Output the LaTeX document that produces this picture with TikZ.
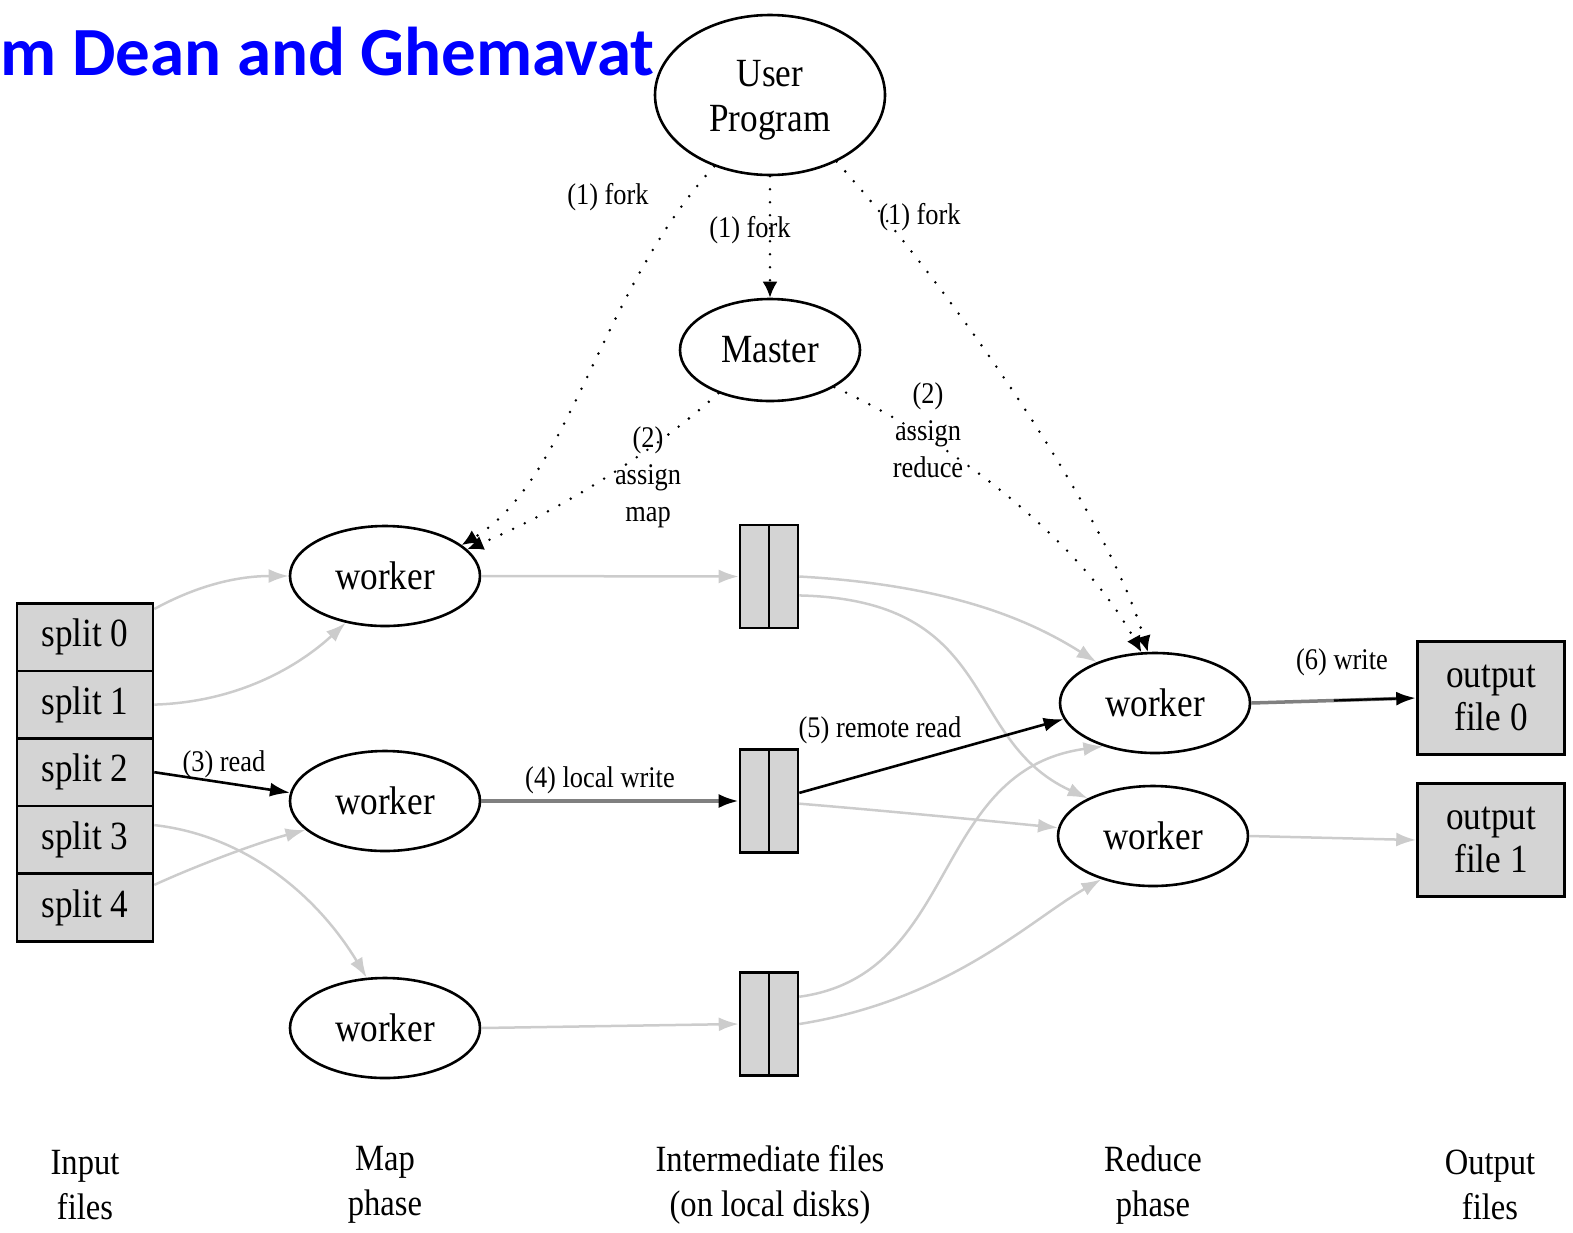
\documentclass[tikz,border=0pt]{standalone}
\usepackage{fontspec}
\setmainfont{Liberation Serif}[FakeStretch=0.88]
\newfontfamily\titlefont{Carlito}
\usetikzlibrary{arrows.meta,shapes.geometric}
\definecolor{boxfill}{gray}{0.83}
\definecolor{lightflow}{gray}{0.80}
\definecolor{mainflow}{gray}{0.50}
\definecolor{titleblue}{RGB}{0,0,255}

\begin{document}
\begin{tikzpicture}[x=1pt,y=-1pt,
  every node/.style={inner sep=0pt},
  proc/.style={ellipse,draw,line width=2.6pt,fill=white,align=center,
    font=\fontsize{40}{45}\selectfont},
  wk/.style={proc,minimum width=190,minimum height=100},
  split/.style={rectangle,draw,line width=2.6pt,fill=boxfill,
    minimum width=136,minimum height=67.6,font=\fontsize{40}{45}\selectfont},
  ifile/.style={rectangle,draw,line width=2.6pt,fill=boxfill,
    minimum width=58,minimum height=103},
  ofile/.style={rectangle,draw,line width=2.6pt,fill=boxfill,
    minimum width=147,minimum height=113,align=center,
    font=\fontsize{40}{43}\selectfont},
  lbl/.style={font=\fontsize{30}{37}\selectfont,align=center},
  phase/.style={font=\fontsize{37}{45}\selectfont,align=center},
  flow/.style={draw=lightflow,line width=2.5pt,-{Latex[length=20pt,width=14pt]}},
  mainflow/.style={draw=mainflow,line width=3.5pt,
    -{Latex[length=20pt,width=14pt,color=black]}},
  dataflow/.style={draw=black,line width=2.6pt,-{Latex[length=20pt,width=14pt]}},
  ctrl/.style={draw=black,line width=2.8pt,line cap=round,
    dash pattern=on 0pt off 13pt,-{Latex[length=16pt,width=15pt]}}
]
\useasboundingbox (0,0) rectangle (1573,1232);

% heading, running off the left edge
\begin{scope}
  \clip (0,0) rectangle (1573,1232);
  \node[anchor=base east,text=titleblue,font=\titlefont\bfseries\fontsize{69}{80}\selectfont]
    (title) at (655,75) {from Dean and Ghemavat};
\end{scope}

% control processes
\node[proc,minimum width=230,minimum height=160] (up) at (770,95) {};
\node[font=\fontsize{40}{45}\selectfont,align=center] (uptext) at (770,100) {User\\Program};
\node[proc,minimum width=180,minimum height=102] (ma) at (770,350) {Master};

% input splits
\node[split] (s0) at (85,637) {split 0};
\node[split] (s1) at (85,704.6) {split 1};
\node[split] (s2) at (85,772.2) {split 2};
\node[split] (s3) at (85,839.8) {split 3};
\node[split] (s4) at (85,907.4) {split 4};

% map workers
\node[wk] (m1) at (385,576) {worker};
\node[wk] (m2) at (385,801) {worker};
\node[wk] (m3) at (385,1028) {worker};

% intermediate files on local disks
\node[ifile] (f1) at (769,576.5) {};
\node[ifile] (f2) at (769,801) {};
\node[ifile] (f3) at (769,1024) {};
\foreach \f in {f1,f2,f3}
  \draw[line width=2.6pt] (\f.north) -- (\f.south);

% reduce workers
\node[wk] (r1) at (1155,703) {worker};
\node[wk] (r2) at (1153,836) {worker};

% output files
\node[ofile] (o0) at (1491,698) {output\\file 0};
\node[ofile] (o1) at (1491,840) {output\\file 1};

% fork and assignment (control) connectors
\draw[ctrl] (up.south) -- (ma.north);
\draw[ctrl] (up.-128) .. controls (600,290) and (570,480) .. (m1.22);
\draw[ctrl] (ma.-140) .. controls (650,455) and (560,510) .. (m1.18);
\draw[ctrl] (up.-45) .. controls (960,300) and (1110,520) .. (r1.98);
\draw[ctrl] (ma.-30) .. controls (950,440) and (1080,540) .. (r1.105);

\node[lbl] (fork1) at (608,197) {(1) fork};
\node[lbl] (fork2) at (750,230) {(1) fork};
\node[lbl] (fork3) at (920,217) {(1) fork};
\node[lbl] (amap) at (648,477) {(2)\\assign\\map};
\node[lbl] (ared) at (928,430) {(2)\\assign\\reduce};

% map input
\draw[flow] (s0.22) .. controls (200,584) and (240,576) .. (m1.west);
\draw[flow] (s1.east) .. controls (240,702) and (300,665) .. (m1.-130);
\draw[flow] (s3.12) .. controls (250,836) and (320,900) .. (m3.110);
\draw[flow] (s4.18) .. controls (200,864) and (260,842) .. (m2.-160);
\draw[dataflow] (s2.east) -- (m2.175);
\node[lbl] (read) at (224,764) {(3) read};

% map output
\draw[flow] (m1.east) -- (f1.west);
\draw[mainflow] (m2.east) -- (f2.west);
\draw[flow] (m3.east) -- (f3.west);
\node[lbl] (lwrite) at (600,780) {(4) local write};

% shuffle to the reducers
\draw[flow] (f1.east) .. controls (950,585) and (1030,620) .. (r1.145);
\draw[flow] (f1.-32) .. controls (1000,600) and (960,740) .. (r2.150);
\draw[flow] (f2.-5) .. controls (900,812) and (1000,822) .. (r2.175);
\draw[flow] (f3.42) .. controls (960,975) and (930,770) .. (r1.-140);
\draw[flow] (f3.east) .. controls (950,1000) and (1030,920) .. (r2.-140);
\draw[dataflow] (f2.15) -- (r1.190);
\node[lbl] (rread) at (880,730) {(5) remote read};

% reduce output
\draw[mainflow] (r1.east) -- (o0.west);
\path (r1.east) -- (o0.west) coordinate[pos=0.5] (wmid);
\draw[black,line width=2.2pt,shorten >=12pt] (wmid) -- (o0.west);
\draw[flow] (r2.east) -- (o1.west);
\node[lbl] (write) at (1342,662) {(6) write};

% phase captions
\node[phase] (cin) at (85,1185) {Input\\files};
\node[phase] (cmap) at (385,1185) {Map\\phase};
\node[phase] (cmid) at (770,1185) {Intermediate files\\(on local disks)};
\node[phase] (cred) at (1153,1185) {Reduce\\phase};
\node[phase] (cout) at (1490,1185) {Output\\files};
\end{tikzpicture}
\end{document}
